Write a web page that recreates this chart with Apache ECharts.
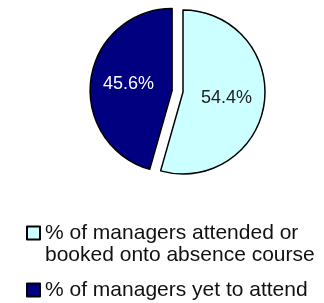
<!DOCTYPE html>
<html>
<head>
<meta charset="utf-8">
<script src="https://cdn.jsdelivr.net/npm/echarts@6/dist/echarts.min.js"></script>
<style>
html, body { margin: 0; padding: 0; background: #fff; }
#chart_01 { width: 324px; height: 303px; }
</style>
</head>
<body>
<div id="chart_01"></div>
<script>
var categories = ['% of managers attended or\nbooked onto absence course', '% of managers yet to attend'];
var values = [54.4, 45.6];
var colors = ['#CCFFFF', '#000080'];
var labelColors = ['#222222', '#ffffff'];

var chart1;

function setChart1() {
    var dom = document.getElementById("chart_01");
    chart1 = echarts.init(dom);
    var option = {
        animation: false,
        legend: {
            orient: 'vertical',
            left: 26,
            top: 200,
            padding: 0,
            itemWidth: 13,
            itemHeight: 13,
            itemGap: 13,
            icon: 'rect',
            itemStyle: {
                borderColor: '#000',
                borderWidth: 2
            },
            // two-line entry: blank first line keeps the icon beside the top line
            formatter: function (name) {
                return name.indexOf('\n') >= 0 ? '\n' + name : name;
            },
            textStyle: {
                fontFamily: 'Liberation Sans, Arial, sans-serif',
                fontSize: 21,
                lineHeight: 22,
                color: '#111'
            },
            data: categories
        },
        series: [{
            type: 'pie',
            center: [183, 92],
            radius: 82,
            startAngle: 90,
            clockwise: true,
            selectedMode: 'single',
            selectedOffset: 11,
            itemStyle: {
                borderColor: '#000',
                borderWidth: 1.5
            },
            select: {
                itemStyle: {
                    borderColor: '#000',
                    borderWidth: 1.5
                }
            },
            label: {
                show: true,
                position: 'inside',
                formatter: '{c}%',
                fontFamily: 'Liberation Sans, Arial, sans-serif',
                fontSize: 18
            },
            labelLine: {show: false},
            emphasis: {disabled: true},
            data: values.map(function (v, i) {
                return {
                    name: categories[i],
                    value: v,
                    selected: i === 1,
                    itemStyle: {color: colors[i]},
                    select: {itemStyle: {color: colors[i]}},
                    label: {color: labelColors[i]}
                };
            })
        }]
    };
    chart1.setOption(option, true);
}

window.onresize = function () {
    chart1 && chart1.resize();
};
setChart1();
</script>
</body>
</html>
